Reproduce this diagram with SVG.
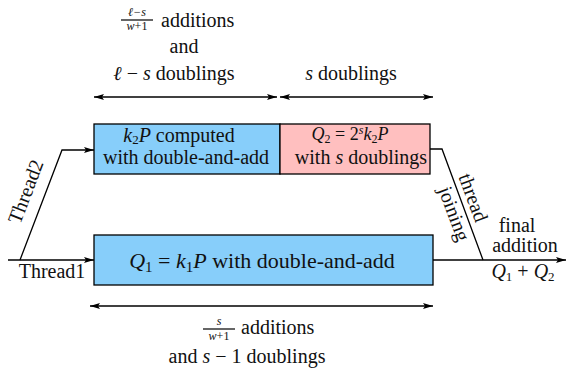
<svg xmlns="http://www.w3.org/2000/svg" width="569" height="372" viewBox="0 0 569 372">
<style>
.f{font-family:'Liberation Serif',serif;fill:#111;}
.t{font-size:20px;}
.m{font-style:italic;}
.s{font-size:12px;}
.ln{stroke:#000;stroke-width:1.3;fill:none;}
.box{stroke:#000;stroke-width:1.3;}
</style>
<defs>
<marker id="ah" viewBox="0 0 10 6" refX="10" refY="3" markerWidth="10" markerHeight="6" markerUnits="userSpaceOnUse" orient="auto-start-reverse">
<path d="M0,0 L10,3 L0,6 L2,3 Z" fill="#000"/>
</marker>
</defs>
<rect width="569" height="372" fill="#fff"/>

<g id="connectors">
<line class="ln" x1="94" y1="97" x2="277" y2="97" marker-start="url(#ah)" marker-end="url(#ah)"/>
<line class="ln" x1="280" y1="97" x2="433" y2="97" marker-start="url(#ah)" marker-end="url(#ah)"/>
<line class="ln" x1="90" y1="306" x2="433" y2="306" marker-start="url(#ah)" marker-end="url(#ah)"/>
<line class="ln" x1="8" y1="260" x2="94" y2="260" marker-end="url(#ah)"/>
<polyline class="ln" points="20,260 62,150 94,150" marker-end="url(#ah)"/>
<polyline class="ln" points="430,149 442,149 483,260"/>
<line class="ln" x1="433" y1="260" x2="566" y2="260" marker-end="url(#ah)"/>
</g>

<g id="top-labels">
<text class="f s m" x="137" y="16" text-anchor="middle">ℓ−s</text>
<line x1="121" y1="20" x2="153" y2="20" stroke="#000" stroke-width="1.2"/>
<text class="f s m" x="137" y="30" text-anchor="middle">w<tspan font-style="normal">+1</tspan></text>
<text class="f t" x="161" y="27">additions</text>
<text class="f t" x="184" y="53" text-anchor="middle">and</text>
<text class="f t" x="174" y="80" text-anchor="middle"><tspan class="m">ℓ</tspan> − <tspan class="m">s</tspan> doublings</text>
<text class="f t" x="351" y="80" text-anchor="middle"><tspan class="m">s</tspan> doublings</text>
</g>

<g id="node-k2p">
<rect class="box" x="94" y="124" width="186" height="50" fill="#87CEFA"/>
<text class="f t" x="179" y="142" text-anchor="middle"><tspan class="m">k</tspan><tspan font-size="13" dy="2">2</tspan><tspan class="m" dy="-2">P</tspan> computed</text>
<text class="f t" x="186" y="164" text-anchor="middle">with double-and-add</text>
</g>

<g id="node-q2">
<rect class="box" x="280" y="124" width="150" height="50" fill="#FFBFBF"/>
<text class="f" x="350" y="140" font-size="18" text-anchor="middle"><tspan class="m">Q</tspan><tspan font-size="12" dy="3">2</tspan><tspan dy="-3"> = 2</tspan><tspan class="m" font-size="12" dy="-6">s</tspan><tspan class="m" dy="6">k</tspan><tspan font-size="12" dy="3">2</tspan><tspan class="m" dy="-3">P</tspan></text>
<text class="f t" x="361" y="164" text-anchor="middle">with <tspan class="m">s</tspan> doublings</text>
</g>

<g id="node-q1">
<rect class="box" x="94" y="235" width="339" height="50" fill="#87CEFA"/>
<text class="f" x="262" y="268" font-size="22" text-anchor="middle"><tspan class="m">Q</tspan><tspan font-size="15" dy="4">1</tspan><tspan dy="-4"> = </tspan><tspan class="m">k</tspan><tspan font-size="15" dy="4">1</tspan><tspan class="m" dy="-4">P</tspan> with double-and-add</text>
</g>

<g id="thread-labels">
<text class="f t" x="52" y="278" text-anchor="middle">Thread1</text>
<text class="f t" transform="translate(32,194) rotate(-69)" text-anchor="middle">Thread2</text>
<text class="f t" transform="translate(467,200) rotate(69.7)" text-anchor="middle">thread</text>
<text class="f t" transform="translate(448,216) rotate(69.7)" text-anchor="middle">joining</text>
</g>

<g id="node-final">
<text class="f t" x="517" y="232" text-anchor="middle">final</text>
<text class="f t" x="525" y="252" text-anchor="middle">addition</text>
<text class="f t" x="523" y="278" text-anchor="middle"><tspan class="m">Q</tspan><tspan font-size="13" dy="3">1</tspan><tspan dy="-3"> + </tspan><tspan class="m">Q</tspan><tspan font-size="13" dy="3">2</tspan></text>
</g>

<g id="bottom-labels">
<text class="f s m" x="219" y="325" text-anchor="middle">s</text>
<line x1="203" y1="329" x2="235" y2="329" stroke="#000" stroke-width="1.2"/>
<text class="f s m" x="219" y="340" text-anchor="middle">w<tspan font-style="normal">+1</tspan></text>
<text class="f t" x="241" y="334">additions</text>
<text class="f t" x="247" y="363" text-anchor="middle">and <tspan class="m">s</tspan> − 1 doublings</text>
</g>
</svg>
